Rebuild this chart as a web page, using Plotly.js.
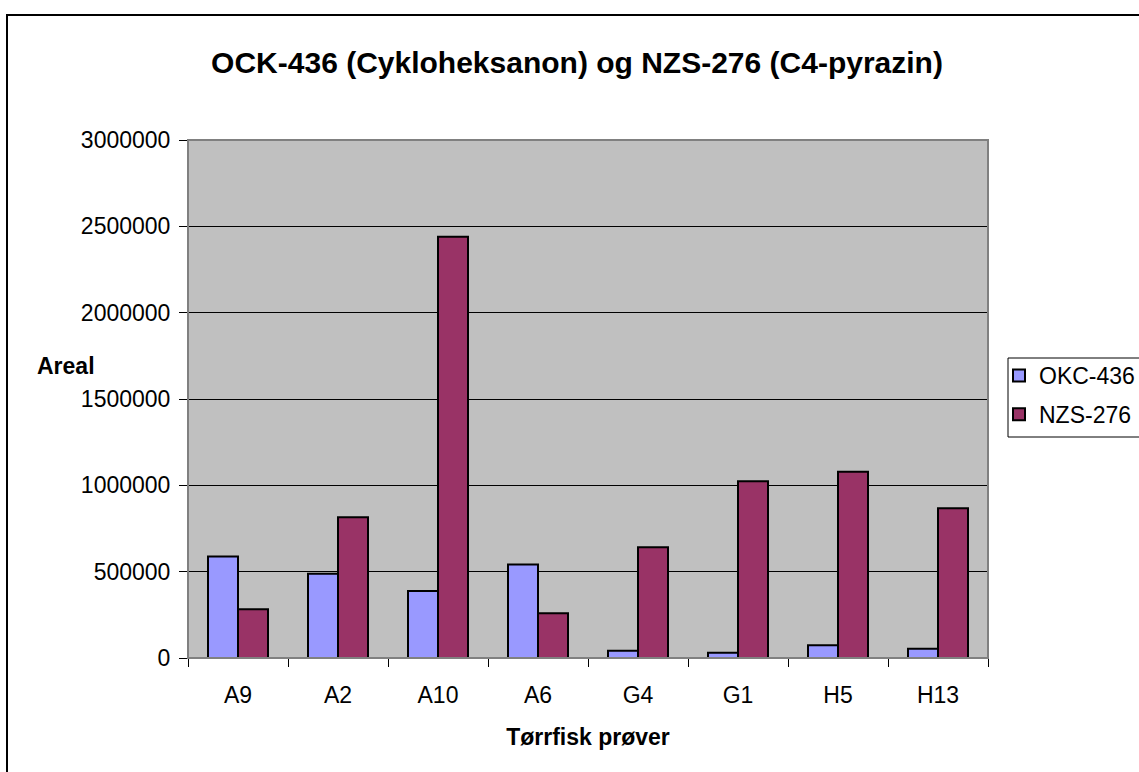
<!DOCTYPE html>
<html>
<head>
<meta charset="utf-8">
<script src="https://cdn.plot.ly/plotly-3.0.1.min.js"></script>
<style>
html,body{margin:0;padding:0;background:#fff;}
#chart{width:1139px;height:772px;}
</style>
</head>
<body>
<div id="chart"></div>
<script>
const categories = ["A9","A2","A10","A6","G4","G1","H5","H13"];
const okc436 = [588000, 488000, 388000, 542000, 42000, 30000, 74000, 54000];
const nzs276 = [283000, 815000, 2440000, 259000, 641000, 1024000, 1078000, 868000];
const yTicks = [0, 500000, 1000000, 1500000, 2000000, 2500000, 3000000];
const yTickText = ["0","500000","1000000","1500000","2000000","2500000","3000000"];

const FONT = "Liberation Sans, Arial, sans-serif";

const traces = [
  {type:"bar", name:"OKC-436", x:categories, y:okc436, legendgroup:"a",
   marker:{color:"#9999FF", line:{color:"#000000", width:2}}},
  {type:"bar", name:"NZS-276", x:categories, y:nzs276, legendgroup:"b",
   marker:{color:"#993366", line:{color:"#000000", width:2}}}
];

const layout = {
  width:1139, height:772,
  margin:{l:188, r:151, t:140, b:114, pad:0, autoexpand:false},
  paper_bgcolor:"#ffffff",
  plot_bgcolor:"#C0C0C0",
  font:{family:FONT, color:"#000000", size:23},
  barmode:"group", bargap:0.4, bargroupgap:0,
  showlegend:true,
  title:{text:"<b>OCK-436 (Cykloheksanon) og NZS-276 (C4-pyrazin)</b>",
         font:{family:FONT, size:30, color:"#000"},
         xref:"container", x:0.5066, xanchor:"center",
         yref:"container", y:1-62/772, yanchor:"middle"},
  xaxis:{type:"category", tickson:"boundaries", ticks:"outside", ticklen:8,
         tickcolor:"#000", tickwidth:1, showline:true, linecolor:"#000", linewidth:1,
         mirror:false, showgrid:false, zeroline:false,
         tickfont:{family:FONT, size:23}, ticklabelstandoff:16,
         title:{text:"<b>Tørrfisk prøver</b>", font:{family:FONT, size:23}, standoff:22}},
  yaxis:{range:[0,3000000], tickvals:yTicks, ticktext:yTickText, ticks:"outside",
         ticklen:8, tickcolor:"#000", tickwidth:1, showline:true, linecolor:"#000",
         linewidth:1, showgrid:true, gridcolor:"#000000", gridwidth:1, zeroline:false,
         tickfont:{family:FONT, size:23}, ticklabelstandoff:4},
  legend:{x:(999-188)/800, xanchor:"left", y:(658-354)/518, yanchor:"top",
          bgcolor:"rgba(0,0,0,0)", borderwidth:0,
          font:{family:FONT, size:23}, traceorder:"grouped", tracegroupgap:6, itemwidth:30},
  annotations:[
    {text:"<b>Areal</b>", xref:"paper", yref:"paper", x:(66-188)/800, y:(658-366)/518,
     xanchor:"center", yanchor:"middle", showarrow:false, font:{family:FONT, size:23}}
  ],
  shapes:[
    {type:"rect", xref:"paper", yref:"paper", x0:0, x1:1, y0:0, y1:1,
     line:{color:"#808080", width:2}, fillcolor:"rgba(0,0,0,0)", layer:"above"},
    {type:"rect", xref:"paper", yref:"paper", x0:(7-188)/800, x1:(1200-188)/800,
     y0:(658-820)/518, y1:(658-15)/518,
     line:{color:"#000000", width:2}, fillcolor:"rgba(0,0,0,0)", layer:"below"},
    {type:"rect", xref:"paper", yref:"paper", x0:(1008-188)/800, x1:(1170-188)/800,
     y0:(658-437)/518, y1:(658-358)/518,
     line:{color:"#000000", width:1}, fillcolor:"#ffffff", layer:"above"}
  ]
};

Plotly.newPlot("chart", traces, layout, {displayModeBar:false, staticPlot:true});
</script>
</body>
</html>
